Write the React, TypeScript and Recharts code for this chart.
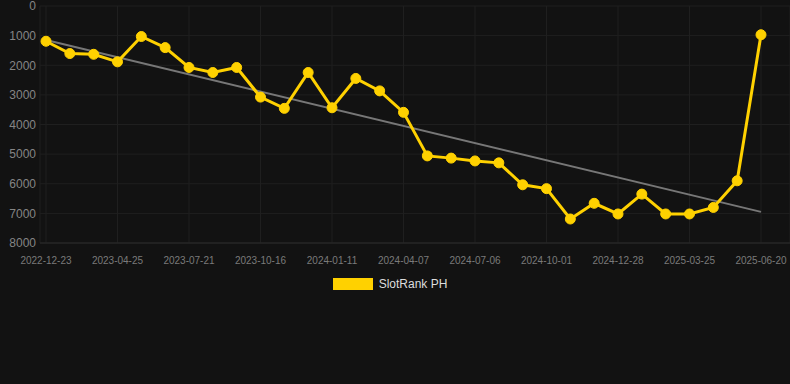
import React from "react";
import { LineChart, Line, XAxis, YAxis, CartesianGrid, Legend } from "recharts";

const dates = [
  "2022-12-23", "2023-02-01", "2023-03-15", "2023-04-25", "2023-05-24", "2023-06-22",
  "2023-07-21", "2023-08-19", "2023-09-17", "2023-10-16", "2023-11-14", "2023-12-13",
  "2024-01-11", "2024-02-09", "2024-03-09", "2024-04-07", "2024-05-07", "2024-06-06",
  "2024-07-06", "2024-08-04", "2024-09-02", "2024-10-01", "2024-10-30", "2024-11-29",
  "2024-12-28", "2025-01-26", "2025-02-24", "2025-03-25", "2025-04-23", "2025-05-22",
  "2025-06-20",
];

const rankValues = [
  1190, 1605, 1630, 1885, 1030, 1405, 2075, 2245, 2075, 3075, 3455,
  2245, 3435, 2445, 2865, 3590, 5060, 5135, 5230, 5295, 6035, 6165,
  7190, 6660, 7020, 6350, 7020, 7020, 6800, 5900, 970,
];

const trendValues: (number | null)[] = dates.map(() => null);
trendValues[0] = 1150;
trendValues[dates.length - 1] = 6950;

const yTicks = [0, 1000, 2000, 3000, 4000, 5000, 6000, 7000, 8000];

const seriesName = "SlotRank PH";

const data = dates.map((d, i) => ({
  date: d,
  rank: rankValues[i],
  trend: trendValues[i],
}));

const LegendContent = () => (
  <div style={{ display: "flex", justifyContent: "center", alignItems: "center", paddingTop: 4, paddingRight: 10 }}>
    <svg width={40} height={12} style={{ marginRight: 6 }}>
      <rect x={0} y={0} width={40} height={12} fill="#FFD100" />
    </svg>
    <span style={{ color: "#dddddd", fontSize: 12, fontFamily: "'Liberation Sans', Arial, sans-serif" }}>
      {seriesName}
    </span>
  </div>
);

export default function App() {
  return (
    <div style={{ position: "absolute", left: 0, top: 0, width: 790, height: 384, background: "#121212" }}>
      <LineChart
        width={790}
        height={384}
        data={data}
        margin={{ top: 6, right: 0, bottom: 0, left: 0 }}
        style={{ fontFamily: "'Liberation Sans', Arial, sans-serif" }}
      >
        <CartesianGrid stroke="#1f1f1f" strokeWidth={1} />
        <XAxis
          dataKey="date"
          interval={2}
          padding={{ left: 6, right: 29 }}
          height={30}
          tickLine={false}
          axisLine={{ stroke: "#2a2a2a" }}
          tick={{ fill: "#7a7a7a", fontSize: 10 }}
          tickMargin={8}
        />
        <YAxis
          reversed
          domain={[0, 8000]}
          ticks={yTicks}
          width={40}
          tickLine={false}
          axisLine={false}
          tick={{ fill: "#858585", fontSize: 12, dx: 4 }}
          interval={0}
        />
        <Legend verticalAlign="bottom" height={111} content={<LegendContent />} />
        <Line
          dataKey="trend"
          stroke="#777777"
          strokeWidth={2}
          dot={false}
          activeDot={false}
          connectNulls
          legendType="none"
          isAnimationActive={false}
        />
        <Line
          dataKey="rank"
          name={seriesName}
          stroke="#FFD100"
          strokeWidth={3}
          dot={{ r: 5, fill: "#FFD100", stroke: "#FFD100", strokeWidth: 1 }}
          isAnimationActive={false}
        />
      </LineChart>
    </div>
  );
}
